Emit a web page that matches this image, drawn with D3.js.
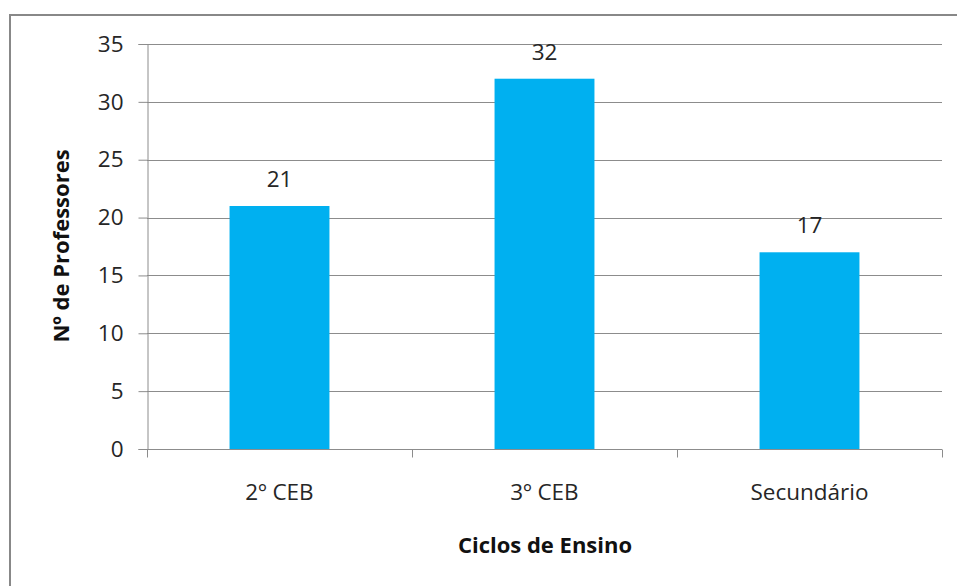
<!DOCTYPE html>
<html><head><meta charset="utf-8">
<script src="https://cdn.jsdelivr.net/npm/d3@7/dist/d3.min.js"></script>
<style>body{margin:0;background:#fff}svg{display:block}</style>
</head><body>
<script>
const categories = ["2º CEB", "3º CEB", "Secundário"];
const values = [21, 32, 17];
const yTicks = [0, 5, 10, 15, 20, 25, 30, 35];
const xTitle = "Ciclos de Ensino";
const yTitle = "Nº de Professores";

const W = 957, H = 586;
const m = {left: 147, right: 15, top: 44, bottom: 137};
const font = "'Open Sans', sans-serif";
const fs = 22.5, fsb = 22;
const svg = d3.select("body").append("svg").attr("width", W).attr("height", H);

svg.append("rect").attr("x", 10).attr("y", 15).attr("width", W + 10).attr("height", H + 10)
  .attr("fill", "#fff").attr("stroke", "#888").attr("stroke-width", 2);

const x = d3.scaleBand().domain(categories).range([m.left, W - m.right]).paddingInner(0.623).paddingOuter(0.3115);
const xb = d3.scaleBand().domain(categories).range([m.left, W - m.right]);
const y = d3.scaleLinear().domain([0, 35]).range([H - m.bottom, m.top]);

const g = svg.append("g");
g.selectAll("line.grid").data(yTicks.filter(d => d > 0)).join("line")
  .attr("x1", m.left).attr("x2", W - m.right)
  .attr("y1", d => Math.round(y(d)) + 0.5).attr("y2", d => Math.round(y(d)) + 0.5)
  .attr("stroke", "#8c8c8c").attr("stroke-width", 1);

g.selectAll("rect.bar").data(values).join("rect")
  .attr("x", (d, i) => x(categories[i])).attr("width", x.bandwidth())
  .attr("y", d => y(d)).attr("height", d => y(0) - y(d))
  .attr("fill", "#00B0F0");

g.selectAll("text.val").data(values).join("text")
  .attr("x", (d, i) => x(categories[i]) + x.bandwidth() / 2)
  .attr("y", d => y(d) - 19)
  .attr("text-anchor", "middle").attr("font-family", font).attr("font-size", fs).attr("fill", "#262626")
  .text(d => d);

const yAx = svg.append("g").attr("transform", `translate(${m.left + 0.5},0)`)
  .call(d3.axisLeft(y).tickValues(yTicks).tickSize(9).tickPadding(15));
yAx.selectAll("line,path").attr("stroke", "#8c8c8c");
yAx.selectAll("text").attr("font-family", font).attr("font-size", fs).attr("fill", "#262626");

const xAx = svg.append("g").attr("transform", `translate(0,${Math.round(y(0)) + 0.5})`);
xAx.append("line").attr("x1", m.left).attr("x2", W - m.right).attr("stroke", "#8c8c8c");
const bounds = categories.map(c => xb(c)).concat([W - m.right]);
xAx.selectAll("line.t").data(bounds).join("line")
  .attr("x1", d => Math.round(d) + 0.5).attr("x2", d => Math.round(d) + 0.5)
  .attr("y1", 0).attr("y2", 8).attr("stroke", "#8c8c8c");
xAx.selectAll("text").data(categories).join("text")
  .attr("x", d => xb(d) + xb.bandwidth() / 2).attr("y", 50)
  .attr("text-anchor", "middle").attr("font-family", font).attr("font-size", fs).attr("fill", "#262626")
  .text(d => d);

svg.append("text").attr("x", 545).attr("y", 553).attr("text-anchor", "middle")
  .attr("font-family", font).attr("font-size", fsb).attr("font-weight", "bold").attr("fill", "#111").text(xTitle);
svg.append("text").attr("transform", "translate(69,246) rotate(-90)").attr("text-anchor", "middle")
  .attr("font-family", font).attr("font-size", fsb).attr("font-weight", "bold").attr("fill", "#111").text(yTitle);
</script>
</body></html>
